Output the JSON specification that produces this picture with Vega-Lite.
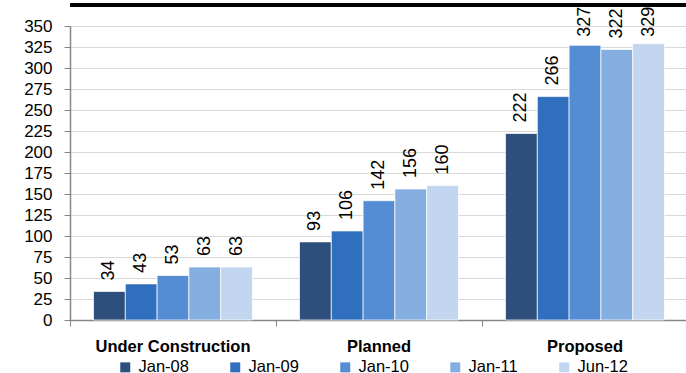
{
  "$schema": "https://vega.github.io/schema/vega-lite/v6.json",
  "width": 618,
  "height": 294,
  "autosize": "none",
  "padding": {"left": 70, "top": 26, "right": 0, "bottom": 53},
  "background": "white",
  "config": {"view": {"stroke": null}, "font": "Liberation Sans"},
  "data": {
    "values": [
      {"status": "Under Construction", "period": "Jan-08", "count": 34},
      {"status": "Under Construction", "period": "Jan-09", "count": 43},
      {"status": "Under Construction", "period": "Jan-10", "count": 53},
      {"status": "Under Construction", "period": "Jan-11", "count": 63},
      {"status": "Under Construction", "period": "Jun-12", "count": 63},
      {"status": "Planned", "period": "Jan-08", "count": 93},
      {"status": "Planned", "period": "Jan-09", "count": 106},
      {"status": "Planned", "period": "Jan-10", "count": 142},
      {"status": "Planned", "period": "Jan-11", "count": 156},
      {"status": "Planned", "period": "Jun-12", "count": 160},
      {"status": "Proposed", "period": "Jan-08", "count": 222},
      {"status": "Proposed", "period": "Jan-09", "count": 266},
      {"status": "Proposed", "period": "Jan-10", "count": 327},
      {"status": "Proposed", "period": "Jan-11", "count": 322},
      {"status": "Proposed", "period": "Jun-12", "count": 329}
    ]
  },
  "layer": [
    {
      "mark": {"type": "bar", "stroke": "white", "strokeWidth": 0.7},
      "encoding": {
        "x": {
          "field": "status", "type": "nominal",
          "sort": ["Under Construction", "Planned", "Proposed"],
          "scale": {"paddingInner": 0, "paddingOuter": 0},
          "axis": {
            "title": null, "grid": false,
            "domainColor": "#868686", "domainWidth": 1.5,
            "ticks": true, "bandPosition": 0, "tickSize": 6, "tickColor": "#868686",
            "labelAngle": 0, "labelFont": "Liberation Sans",
            "labelFontWeight": "bold", "labelFontSize": 16.5, "labelColor": "black",
            "labelPadding": 12
          }
        },
        "xOffset": {
          "field": "period", "type": "nominal",
          "sort": ["Jan-08", "Jan-09", "Jan-10", "Jan-11", "Jun-12"],
          "scale": {"paddingInner": 0, "paddingOuter": 0.74}
        },
        "y": {
          "field": "count", "type": "quantitative",
          "scale": {"domain": [0, 350], "nice": false},
          "axis": {
            "title": null,
            "values": [0, 25, 50, 75, 100, 125, 150, 175, 200, 225, 250, 275, 300, 325, 350],
            "labelOverlap": false,
            "domainColor": "#868686", "domainWidth": 1.5,
            "tickColor": "#868686", "tickSize": 6,
            "grid": true, "gridColor": "#D9D9D9", "gridWidth": 1,
            "labelFont": "Liberation Sans", "labelFontSize": 17,
            "labelColor": "black", "labelPadding": 12
          }
        },
        "color": {
          "field": "period", "type": "nominal",
          "sort": ["Jan-08", "Jan-09", "Jan-10", "Jan-11", "Jun-12"],
          "scale": {
            "domain": ["Jan-08", "Jan-09", "Jan-10", "Jan-11", "Jun-12"],
            "range": ["#2E4F7B", "#2F6FBE", "#548DD4", "#84AEE0", "#C2D6EF"]
          },
          "legend": {
            "title": null, "orient": "none", "direction": "horizontal",
            "legendX": 47, "legendY": 333, "padding": 0,
            "symbolType": "square", "symbolSize": 100, "symbolStrokeWidth": 0,
            "labelFont": "Liberation Sans", "labelFontSize": 16.5, "labelColor": "black",
            "labelOffset": 5, "columnPadding": 38, "labelLimit": 200
          }
        }
      }
    },
    {
      "transform": [
        {"calculate": "min(datum.count, 324)", "as": "labelAnchor"}
      ],
      "mark": {
        "type": "text", "angle": 270, "align": "left", "baseline": "middle",
        "dx": 11, "font": "Liberation Sans Narrow, Liberation Sans", "fontSize": 18, "color": "black"
      },
      "encoding": {
        "x": {
          "field": "status", "type": "nominal",
          "sort": ["Under Construction", "Planned", "Proposed"]
        },
        "xOffset": {
          "field": "period", "type": "nominal",
          "sort": ["Jan-08", "Jan-09", "Jan-10", "Jan-11", "Jun-12"]
        },
        "y": {
          "field": "labelAnchor", "type": "quantitative",
          "scale": {"domain": [0, 350], "nice": false},
          "axis": null
        },
        "text": {"field": "count", "type": "quantitative"}
      }
    },
    {
      "mark": {"type": "rule", "color": "black", "strokeWidth": 2.5},
      "encoding": {
        "y": {
          "datum": 375, "type": "quantitative",
          "scale": {"domain": [0, 350], "nice": false},
          "axis": null
        }
      }
    }
  ],
  "resolve": {"scale": {"y": "independent"}, "axis": {"y": "independent"}}
}
